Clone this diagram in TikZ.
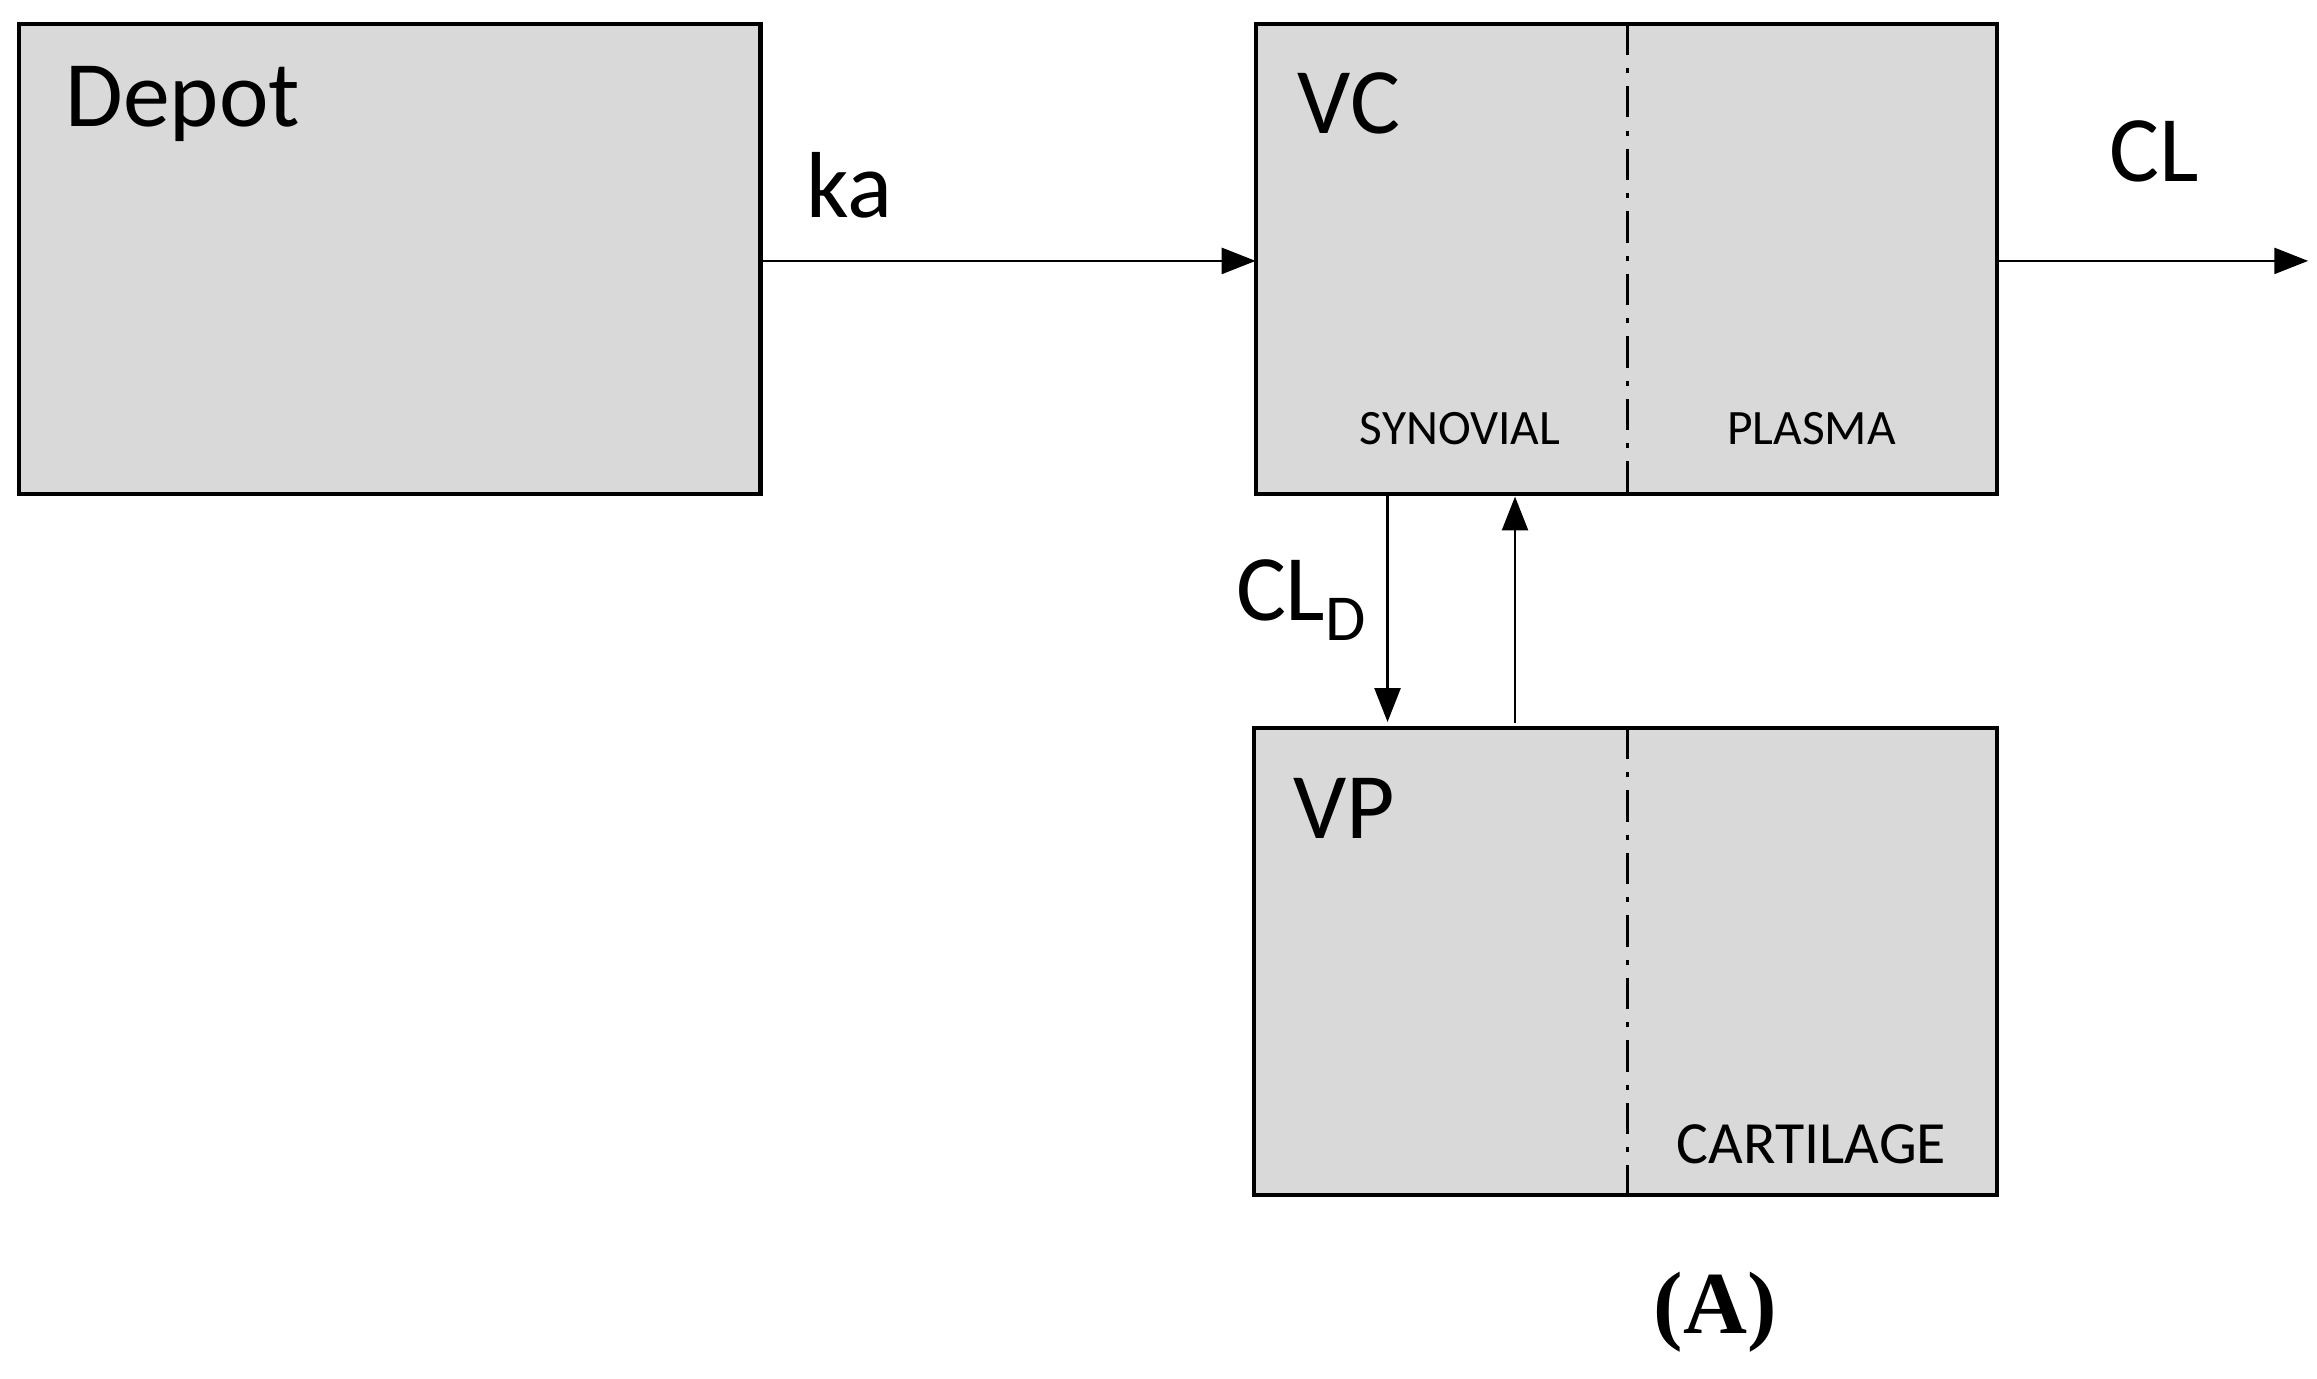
\documentclass[tikz,border=0pt]{standalone}
\usepackage{fontspec}
\setmainfont{Carlito}
\newfontfamily\serifA{Liberation Serif}
\usetikzlibrary{arrows.meta}
\begin{document}
\begin{tikzpicture}[x=0.02cm,y=-0.02cm,
 box/.style={draw=black,fill={rgb,255:red,217;green,217;blue,217},line width=1.6pt},
 div/.style={line width=1pt,dash pattern=on 12pt off 5pt on 2pt off 5pt},
 arr/.style={line width=0.9pt,-{Triangle[length=13pt,width=10pt]}},
 big/.style={font=\fontsize{36}{40}\selectfont},
 small/.style={font=\fontsize{19}{22}\selectfont},
 mid/.style={font=\fontsize{23}{26}\selectfont}]
\useasboundingbox (0,0) rectangle (1563,930);
\path[box] (13,16) rectangle (513,333);
\path[box] (847,16) rectangle (1347,333);
\path[box] (846,491) rectangle (1347,806);
\draw[div] (1098,16) -- (1098,333);
\draw[div] (1098,491) -- (1098,806);
\coordinate (depotE) at (513,176);
\coordinate (vcW) at (847,176);
\coordinate (vcE) at (1347,176);
\coordinate (clEnd) at (1557,176);
\coordinate (d1) at (936,333);
\coordinate (d2) at (936,487);
\coordinate (u1) at (1022,488);
\coordinate (u2) at (1022,335);
\draw[arr] (depotE) -- (vcW);
\draw[arr] (vcE) -- (clEnd);
\draw[arr] (d1) -- (d2);
\draw[arr] (u1) -- (u2);
\node[big,anchor=west] (depot) at (38,70) {Depot};
\node[big] (vc) at (910,70) {VC};
\node[big] (vp) at (907,545) {VP};
\node[big] (ka) at (573,125) {ka};
\node[big] (cl) at (1453,102) {CL};
\node[big] (cld) at (878,405) {CL\textsubscript{D}};
\node[small] (syn) at (985,289) {SYNOVIAL};
\node[small] (pla) at (1222,289) {PLASMA};
\node[mid] (car) at (1222,772) {CARTILAGE};
\node[font=\serifA\bfseries\fontsize{34}{38}\selectfont] (A) at (1157,885) {(A)};
\end{tikzpicture}
\end{document}
